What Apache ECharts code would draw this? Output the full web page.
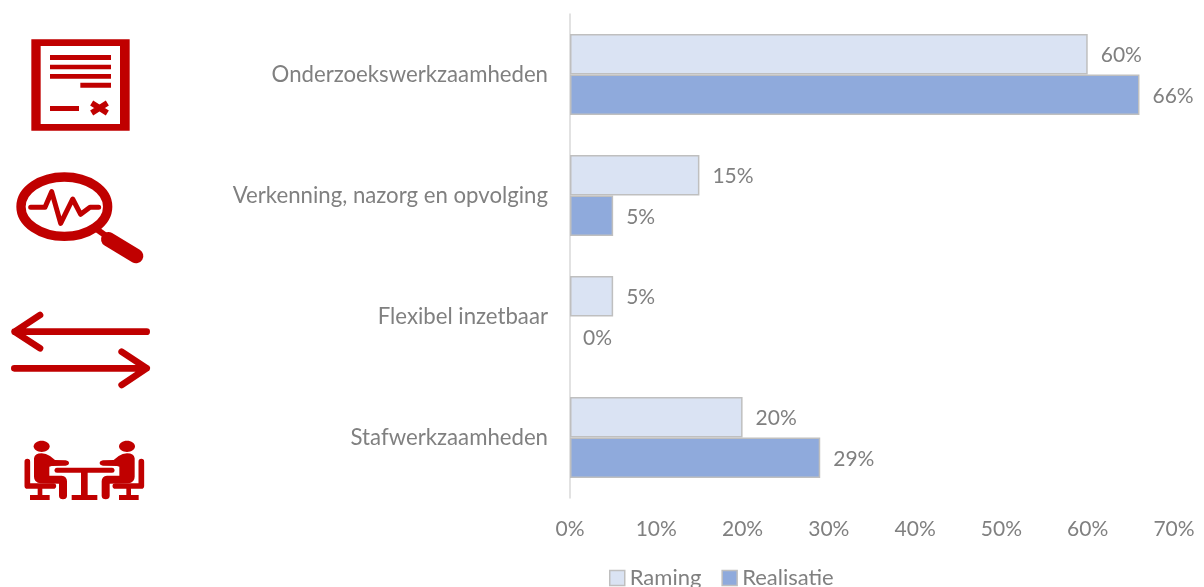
<!DOCTYPE html>
<html>
<head>
<meta charset="utf-8">
<style>html,body{margin:0;padding:0;background:#fff}#c{width:1204px;height:587px}</style>
<script src="https://cdn.jsdelivr.net/npm/echarts@6/dist/echarts.min.js"></script>
</head>
<body>
<div id="c"></div>
<script>
const categories = ['Onderzoekswerkzaamheden', 'Verkenning, nazorg en opvolging', 'Flexibel inzetbaar', 'Stafwerkzaamheden'];
const raming = [60, 15, 5, 20];
const realisatie = [66, 5, 0, 29];
const tickMax = 70;
const tickStep = 10;

const red = '#c00000';
const textGrey = '#808080';
const font = 'Lato';

let shapeId = 0;
function pathEl(d, style) {
  const name = 'iconPath' + (shapeId++);
  echarts.graphic.registerShape(name, echarts.graphic.extendPath(d, {}));
  return { type: name, silent: true, style: style };
}
function filled(d) { return pathEl(d, { fill: red }); }
function stroked(d, w, cap) {
  return pathEl(d, { fill: 'none', stroke: red, lineWidth: w, lineCap: cap || 'round', lineJoin: 'round' });
}
function icon(x, y, sx, sy, children) {
  return { type: 'group', silent: true, x: x, y: y, scaleX: sx, scaleY: sy, children: children };
}
const k = 1 / 3;

function person() {
  return [
    { type: 'ellipse', silent: true, shape: { cx: 125, cy: 469, rx: 24, ry: 17 }, style: { fill: red } },
    filled('M102 505 Q104 490 125 490 Q138 490 150 498 L165 510 L197 511 Q207 513 207 519 Q207 526 197 527 L155 528 L148 530 L148 557 L185 557 Q201 559 201 574 L201 618 Q200 628 189 628 Q178 628 177 618 L177 581 L122 580 Q102 578 102 560 Z'),
    stroked('M82 515 L82 588 L160 588', 17),
    { type: 'rect', silent: true, shape: { x: 113, y: 594, width: 14, height: 24 }, style: { fill: red } },
    { type: 'rect', silent: true, shape: { x: 90, y: 615, width: 59, height: 15 }, style: { fill: red } }
  ];
}

const graphic = [
  icon(0, 20, k, k, [
    filled('M94 58 H389 V332 H94 Z M122 78 V312 H360 V78 Z'),
    filled('M150 105 H333 V120 H150 Z M150 134 H333 V148 H150 Z M150 162 H333 V176 H150 Z M241 188 H333 V203 H241 Z M150 258 H237 V273 H150 Z'),
    stroked('M275 249 L322 279 M322 249 L275 279', 17, 'butt'),
    { type: 'ellipse', silent: true, shape: { cx: 193, cy: 560, rx: 130, ry: 89 }, style: { fill: 'none', stroke: red, lineWidth: 28 } },
    stroked('M92 562 H135 L155 515 L182 610 L218 537 L242 583 L270 562 H296', 15),
    stroked('M290 628 L322 650', 18, 'butt'),
    stroked('M325 658 L408 708', 44)
  ]),
  icon(0, 290, k, k, [
    stroked('M440 125 H44 M120 75 L44 125 L120 175', 20),
    stroked('M43 235 H440 M365 185 L440 235 L365 285', 20),
    stroked('M171 541 H336', 15),
    { type: 'rect', silent: true, shape: { x: 243, y: 545, width: 20, height: 72 }, style: { fill: red } },
    { type: 'rect', silent: true, shape: { x: 215, y: 615, width: 77, height: 15 }, style: { fill: red } }
  ]),
  icon(0, 290, k, k, person()),
  icon(506 / 3, 290, -k, k, person())
];

const barData = (values) => values.map(v => v === 0 ? { value: v, itemStyle: { borderWidth: 0 } } : v);

const chart = echarts.init(document.getElementById('c'), null, { renderer: 'canvas' });
const labelCfg = { show: true, position: 'right', distance: 13, offset: [0, 1], formatter: '{c}%', color: textGrey, fontFamily: font, fontSize: 21 };
chart.setOption({
  animation: false,
  backgroundColor: '#fff',
  grid: { left: 570, right: 30, top: 14, bottom: 89, containLabel: false },
  legend: {
    data: ['Raming', 'Realisatie'],
    top: 562, left: 604,
    icon: 'rect',
    itemWidth: 15, itemHeight: 15, itemGap: 20, itemStyle: { borderWidth: 1.5 },
    textStyle: { color: textGrey, fontFamily: font, fontSize: 22 }
  },
  xAxis: {
    type: 'value', min: 0, max: tickMax, interval: tickStep,
    axisLine: { show: false }, axisTick: { show: false }, splitLine: { show: false },
    axisLabel: { formatter: '{value}%', color: textGrey, fontFamily: font, fontSize: 21, margin: 21 }
  },
  yAxis: {
    type: 'category', data: categories, inverse: true,
    axisLine: { show: true, lineStyle: { color: '#d9d9d9', width: 1.5 } },
    axisTick: { show: false },
    axisLabel: { color: textGrey, fontFamily: font, fontSize: 22.2, margin: 22 }
  },
  series: [
    { name: 'Raming', type: 'bar', data: barData(raming), barGap: 0, barCategoryGap: '33%',
      itemStyle: { color: '#dae3f3', borderColor: '#bfbfbf', borderWidth: 1.5 }, label: labelCfg },
    { name: 'Realisatie', type: 'bar', data: barData(realisatie),
      itemStyle: { color: '#8faadc', borderColor: '#bfbfbf', borderWidth: 1.5 }, label: labelCfg }
  ],
  graphic: { elements: graphic }
});
</script>
</body>
</html>
